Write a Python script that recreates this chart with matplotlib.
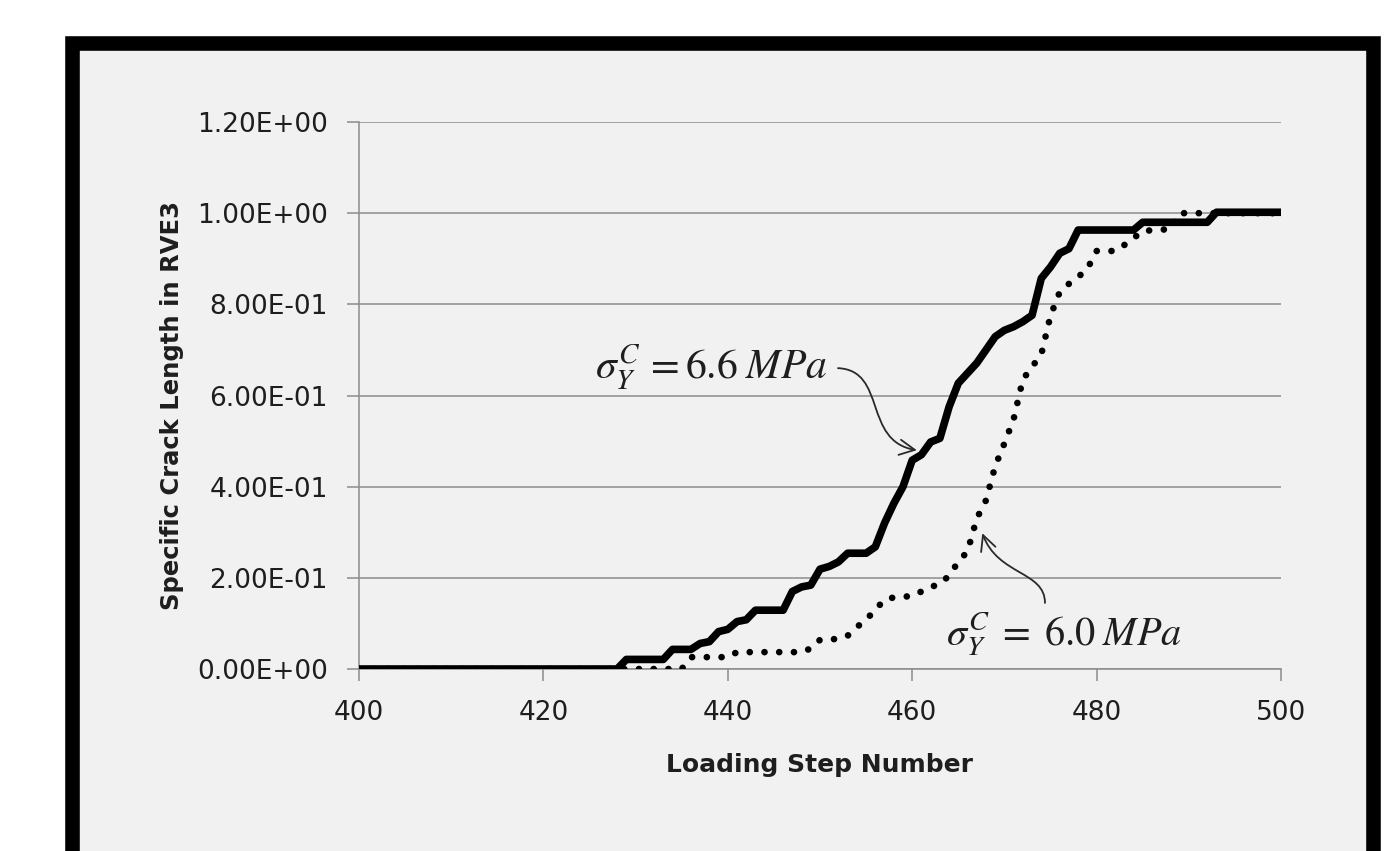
import matplotlib
matplotlib.use("Agg")
import matplotlib.pyplot as plt
from matplotlib.patches import Rectangle, FancyArrowPatch
from matplotlib.path import Path
from matplotlib.ticker import FuncFormatter

# -----------------------------
# Data (breakpoints of each curve)
# -----------------------------

# sigma_Y^C = 6.6 MPa (solid line)
steps_66 = [400, 428, 429, 433, 434, 436, 437, 438, 439, 440, 441, 442, 443, 446,
            447, 448, 449, 450, 451, 452, 453, 455, 456, 457, 458, 459, 460, 461,
            462, 463, 464, 465, 466, 467, 468, 469, 470, 471, 472, 473, 474, 475,
            476, 477, 478, 484, 485, 492, 493, 500]
crack_66 = [0.0, 0.0, 0.021, 0.021, 0.043, 0.043, 0.056, 0.060, 0.082, 0.087, 0.104,
            0.108, 0.129, 0.129, 0.170, 0.180, 0.184, 0.219, 0.225, 0.235, 0.254,
            0.254, 0.268, 0.320, 0.363, 0.400, 0.458, 0.470, 0.498, 0.506, 0.575,
            0.627, 0.649, 0.671, 0.700, 0.729, 0.743, 0.751, 0.762, 0.776, 0.857,
            0.882, 0.912, 0.922, 0.963, 0.963, 0.980, 0.980, 1.002, 1.002]

# sigma_Y^C = 6.0 MPa (dotted line)
steps_60 = [400, 435, 436, 440, 441, 448, 449, 450, 452, 453, 454, 455, 456, 457,
            458, 460, 461, 462, 463, 464, 465, 466, 467, 468, 469, 470, 471, 472,
            473, 474, 475, 476, 477, 478, 479, 480, 482, 483, 484, 485, 488, 489, 500]
crack_60 = [0.0, 0.0, 0.026, 0.026, 0.037, 0.037, 0.045, 0.064, 0.066, 0.073, 0.092,
            0.108, 0.130, 0.152, 0.157, 0.160, 0.170, 0.180, 0.186, 0.205, 0.235,
            0.258, 0.330, 0.370, 0.445, 0.495, 0.548, 0.635, 0.663, 0.690, 0.775,
            0.827, 0.845, 0.860, 0.878, 0.917, 0.917, 0.930, 0.945, 0.961, 0.965,
            1.0, 1.0]

x_ticks = [400, 420, 440, 460, 480, 500]
y_ticks = [0.0, 0.2, 0.4, 0.6, 0.8, 1.0, 1.2]

GRID_GRAY = "#8c8c8c"
TEXT_DARK = "#1e1e1e"

W, H = 1396, 851

fig = plt.figure(figsize=(W / 100, H / 100), dpi=100)
fig.patch.set_facecolor("white")

# Black chart-area border with light gray fill (bottom edge runs off the image)
frame = Rectangle((71.5 / W, -0.05), (1373 - 71.5) / W, (H - 42.5) / H + 0.05,
                  transform=fig.transFigure, facecolor="#f1f1f1",
                  edgecolor="black", linewidth=10.5, zorder=0)
fig.add_artist(frame)

ax = fig.add_axes([359 / W, 1 - 669 / H, (1281 - 359) / W, (669 - 122) / H])
ax.set_facecolor("none")

ax.plot(steps_60, crack_60, color="black", lw=4.8,
        linestyle=(0, (0.01, 2.2)), dash_capstyle="round", zorder=3)
ax.plot(steps_66, crack_66, color="black", lw=5.5,
        solid_joinstyle="round", solid_capstyle="butt", zorder=4)

ax.set_xlim(400, 500)
ax.set_ylim(0, 1.2)
ax.set_xticks(x_ticks)
ax.set_yticks(y_ticks)
ax.yaxis.set_major_formatter(FuncFormatter(lambda v, _: f"{v:.2E}"))

ax.grid(axis="y", color=GRID_GRAY, lw=1.1, zorder=1)
ax.set_axisbelow(True)
for side in ["top", "right"]:
    ax.spines[side].set_visible(False)
for side in ["left", "bottom"]:
    ax.spines[side].set_color(GRID_GRAY)
    ax.spines[side].set_linewidth(1.1)

ax.tick_params(axis="both", direction="out", length=8.5, width=1.1,
               color=GRID_GRAY, labelcolor=TEXT_DARK, labelsize=19, pad=14)

ax.set_xlabel("Loading Step Number", fontsize=18, fontweight="bold",
              color=TEXT_DARK, va="center")
ax.xaxis.set_label_coords(0.5, -0.176)
ax.set_ylabel("Specific Crack Length in RVE3", fontsize=17.5, fontweight="bold",
              color=TEXT_DARK, va="center")
ax.yaxis.set_label_coords(-0.2028, 0.481)

# Curve labels
plt.rcParams["mathtext.fontset"] = "stix"
ax.text(438.2, 0.637, r"$\sigma_Y^C\, =6.6\;MPa$", fontsize=30, color=TEXT_DARK,
        ha="center", va="baseline")
ax.text(476.5, 0.0526, r"$\sigma_Y^C\;=\;6.0\;MPa$", fontsize=29, color=TEXT_DARK,
        ha="center", va="baseline")

# Curvy pointer arrows
arrow_66 = Path([(451.95, 0.660), (457.3, 0.655), (454.6, 0.500), (460.5, 0.480)],
                [Path.MOVETO, Path.CURVE4, Path.CURVE4, Path.CURVE4])
arrow_60 = Path([(474.4, 0.145), (474.4, 0.215), (469.3, 0.205), (467.6, 0.298)],
                [Path.MOVETO, Path.CURVE4, Path.CURVE4, Path.CURVE4])
for p in [arrow_66, arrow_60]:
    ax.add_patch(FancyArrowPatch(path=p, arrowstyle="->,head_length=0.5,head_width=0.25",
                                 mutation_scale=22, color="#2a2a2a", lw=1.3, zorder=5))

fig.savefig("out.png", dpi=100, facecolor="white")
